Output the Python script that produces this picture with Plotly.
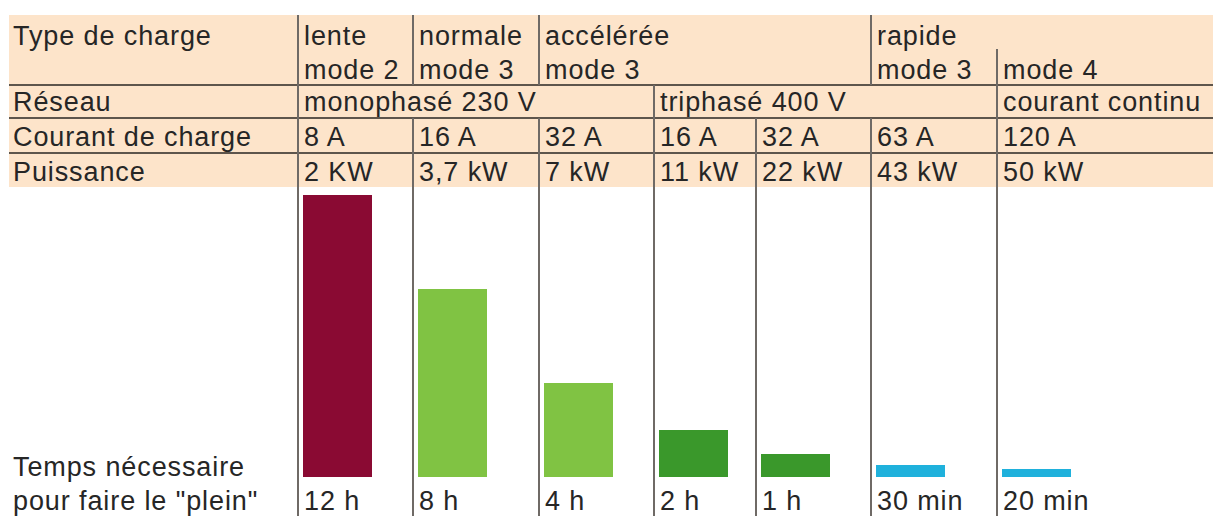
import plotly.graph_objects as go

# ---------------- data ----------------
type_charge = ["lente", "normale", "accélérée", "rapide"]
modes = ["mode 2", "mode 3", "mode 3", "mode 3", "mode 4"]
reseau = ["monophasé 230 V", "triphasé 400 V", "courant continu"]
courant = ["8 A", "16 A", "32 A", "16 A", "32 A", "63 A", "120 A"]
puissance = ["2 KW", "3,7 kW", "7 kW", "11 kW", "22 kW", "43 kW", "50 kW"]
temps_labels = ["12 h", "8 h", "4 h", "2 h", "1 h", "30 min", "20 min"]
temps_heures = [12, 8, 4, 2, 1, 0.5, 1 / 3]
bar_colors = ["#8a0a33", "#80c343", "#80c343", "#3a982b", "#3a982b", "#1fb1dc", "#1fb1dc"]
row_titles = ["Type de charge", "Réseau", "Courant de charge", "Puissance"]
temps_title = ["Temps nécessaire", "pour faire le \"plein\""]

# ---------------- layout constants (pixel grid) ----------------
W, H = 1213, 516
col_x = [298, 413, 539, 654, 756, 871, 997]   # column separators
peach_top, peach_bot, peach_left = 15, 187, 9
h_lines = [85, 118, 153]
base_px = 477          # pixel row of 0 h
px_per_hour = 23.5
bar_w = 69
bar_off = 5
FS = 27
FONT = "Liberation Sans, Arial, sans-serif"
TXT = "#262626"

fig = go.Figure()

fig.add_trace(go.Bar(
    x=[c + bar_off + bar_w / 2 for c in col_x],
    y=temps_heures,
    width=bar_w,
    marker=dict(color=bar_colors, line=dict(width=0)),
    yaxis="y2",
    hoverinfo="skip",
    showlegend=False,
))

shapes = []
shapes.append(dict(type="rect", xref="x", yref="y", x0=peach_left, x1=W, y0=peach_top, y1=peach_bot,
                   fillcolor="#fde4ca", line=dict(width=0), layer="below"))
for hy in h_lines:
    shapes.append(dict(type="line", xref="x", yref="y", x0=peach_left, x1=W, y0=hy, y1=hy,
                       line=dict(color="#5e554c", width=2)))

seg = {
    0: [(peach_top, H)],
    1: [(peach_top, h_lines[0]), (h_lines[1], H)],
    2: [(peach_top, h_lines[0]), (h_lines[1], H)],
    3: [(h_lines[0], H)],
    4: [(h_lines[1], H)],
    5: [(peach_top, h_lines[0]), (h_lines[1], H)],
    6: [(49, H)],
}
for i, segs in seg.items():
    for y0, y1 in segs:
        shapes.append(dict(type="line", xref="x", yref="y", x0=col_x[i], x1=col_x[i], y0=y0, y1=y1,
                           line=dict(color="#6f6a66", width=2)))

annotations = []


def txt(x, y, s):
    annotations.append(dict(x=x, y=y, xref="x", yref="y", text=s, showarrow=False,
                            xanchor="left", yanchor="middle",
                            font=dict(family=FONT, size=FS, color=TXT)))


pad = 4
left = 11
row_y = [36, 69.5, 102, 136.5, 171.5]
txt(left, row_y[0], row_titles[0])
txt(left, row_y[2], row_titles[1])
txt(left, row_y[3], row_titles[2])
txt(left, row_y[4], row_titles[3])
for ci, s in zip([0, 1, 2, 5], type_charge):
    txt(col_x[ci] + pad, row_y[0], s)
for ci, s in zip([0, 1, 2, 5, 6], modes):
    txt(col_x[ci] + pad, row_y[1], s)
for ci, s in zip([0, 3, 6], reseau):
    txt(col_x[ci] + pad, row_y[2], s)
for ci in range(7):
    txt(col_x[ci] + pad, row_y[3], courant[ci])
    txt(col_x[ci] + pad, row_y[4], puissance[ci])
txt(left, 467, temps_title[0])
txt(left, 500.5, temps_title[1])
for ci in range(7):
    txt(col_x[ci] + pad, 500.5, temps_labels[ci])

fig.update_layout(
    width=W, height=H,
    margin=dict(l=0, r=0, t=0, b=0),
    paper_bgcolor="white", plot_bgcolor="white",
    xaxis=dict(range=[0, W], visible=False, fixedrange=True),
    yaxis=dict(range=[H, 0], visible=False, fixedrange=True),
    yaxis2=dict(range=[-(H - base_px) / px_per_hour, base_px / px_per_hour],
                overlaying="y", visible=False, fixedrange=True),
    shapes=shapes,
    annotations=annotations,
    bargap=0,
)

fig.write_html("out.html", config={"displayModeBar": False})

# remove default page margin so the figure fills the window exactly;
# slight letter spacing mimics the horizontally wide lettering of the reference
with open("out.html", encoding="utf-8") as f:
    html = f.read()
html = html.replace(
    "<head>",
    "<head><style>html,body{margin:0;padding:0;overflow:hidden;}"
    ".annotation-text{letter-spacing:0.9px;}</style>",
    1,
)
with open("out.html", "w", encoding="utf-8") as f:
    f.write(html)
